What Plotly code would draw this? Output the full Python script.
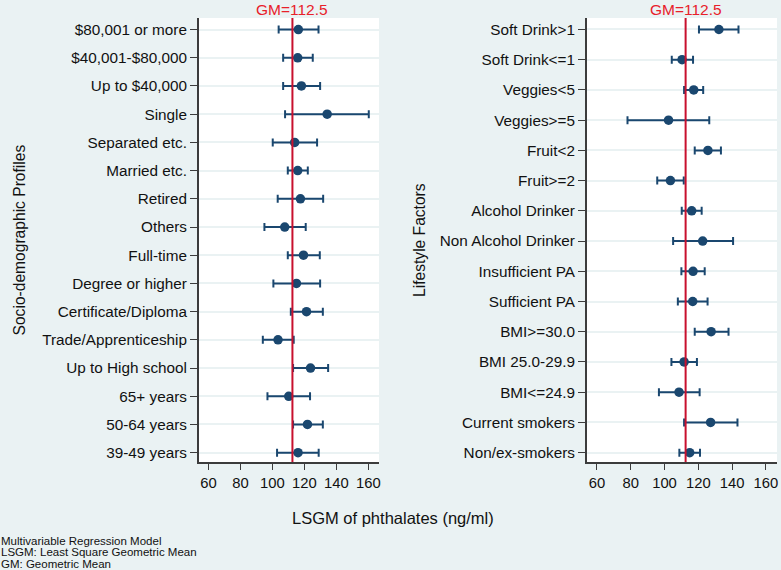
import plotly.graph_objects as go

# ---- data ----
socio_labels = ["$80,001 or more", "$40,001-$80,000", "Up to $40,000", "Single",
                "Separated etc.", "Married etc.", "Retired", "Others", "Full-time",
                "Degree or higher", "Certificate/Diploma", "Trade/Apprenticeship",
                "Up to High school", "65+ years", "50-64 years", "39-49 years"]
socio_est = [116.2, 115.8, 118.1, 134.2, 113.9, 115.8, 117.5, 107.7, 119.4,
             115.0, 121.3, 103.5, 123.8, 110.2, 121.9, 116.0]
socio_lo = [103.9, 106.7, 106.7, 107.9, 100.2, 109.6, 103.3, 95.0, 109.6,
            100.6, 111.5, 94.0, 112.9, 96.9, 112.9, 102.9]
socio_hi = [128.8, 125.2, 129.8, 160.2, 127.9, 122.1, 131.7, 120.8, 129.6,
            129.8, 131.5, 113.3, 134.8, 123.5, 131.5, 128.9]

life_labels = ["Soft Drink>1", "Soft Drink<=1", "Veggies<5", "Veggies>=5", "Fruit<2",
               "Fruit>=2", "Alcohol Drinker", "Non Alcohol Drinker", "Insufficient PA",
               "Sufficient PA", "BMI>=30.0", "BMI 25.0-29.9", "BMI<=24.9",
               "Current smokers", "Non/ex-smokers"]
life_est = [132.2, 110.4, 117.3, 102.4, 125.7, 103.5, 116.1, 122.6, 116.9,
            116.7, 127.6, 111.6, 108.6, 127.3, 114.9]
life_lo = [120.4, 104.3, 111.6, 78.1, 117.9, 95.7, 110.2, 105.1, 110.0,
           107.9, 117.9, 104.1, 96.7, 111.6, 108.8]
life_hi = [143.8, 116.9, 122.9, 126.5, 133.4, 111.4, 122.0, 140.6, 123.8,
           125.5, 137.9, 119.2, 120.8, 143.2, 121.0]

gm_value = 112.5
x_ticks = [60, 80, 100, 120, 140, 160]
note_lines = ["Multivariable Regression Model",
              "LSGM: Least Square Geometric Mean",
              "GM: Geometric Mean"]

# ---- style ----
BG = "#EAF2F3"
NAVY = "#1A476F"
RED = "#C8102E"
AXC = "#3C3C3C"
FONT = "Liberation Sans, Arial, sans-serif"

W, H = 781, 570
TOP, BOT = 18, 462
PH = BOT - TOP


def py(px):
    """pixel row -> paper y"""
    return (BOT - px) / PH


fig = go.Figure()


def add_panel(labels, est, lo, hi, xa, ya):
    n = len(labels)
    ypos = list(range(n))
    fig.add_trace(go.Scatter(
        x=est, y=ypos, mode="markers",
        marker=dict(color=NAVY, size=9.5),
        error_x=dict(type="data", symmetric=False,
                     array=[h - e for h, e in zip(hi, est)],
                     arrayminus=[e - l for e, l in zip(est, lo)],
                     color=NAVY, thickness=2, width=4),
        xaxis=xa, yaxis=ya, showlegend=False, hoverinfo="x+y"))
    return ypos


yl = add_panel(socio_labels, socio_est, socio_lo, socio_hi, "x", "y")
yr = add_panel(life_labels, life_est, life_lo, life_hi, "x2", "y2")

xr = [54.0, 166.6]
common_x = dict(range=xr, tickvals=x_ticks, ticks="outside", ticklen=6,
                tickcolor=AXC, tickwidth=1.2, showline=True, linecolor=AXC,
                linewidth=1.5, showgrid=False, zeroline=False,
                tickfont=dict(size=14.8, color="#111", family=FONT))
common_y = dict(ticks="outside", ticklen=7, tickcolor=AXC, tickwidth=1.2,
                showline=True, linecolor=AXC, linewidth=1.5, showgrid=True,
                gridcolor=BG, gridwidth=1.5, zeroline=False,
                tickfont=dict(size=15.3, color="#111", family=FONT))

fig.update_layout(
    width=W, height=H,
    paper_bgcolor=BG, plot_bgcolor="white",
    margin=dict(l=0, r=0, t=TOP, b=H - BOT),
    font=dict(family=FONT, color="#111"),
    xaxis=dict(domain=[199.3 / W, 380 / W], anchor="y", **common_x),
    yaxis=dict(domain=[0, 1], anchor="x", tickvals=yl, ticktext=socio_labels,
               range=[15.33, -0.41], **common_y),
    xaxis2=dict(domain=[588.3 / W, 779 / W], anchor="y2", **common_x),
    yaxis2=dict(domain=[0, 1], anchor="x2", tickvals=yr, ticktext=life_labels,
                range=[14.31, -0.38], **common_y),
)

# GM reference lines
for xa in ["x", "x2"]:
    fig.add_shape(type="line", xref=xa, yref="paper", x0=gm_value, x1=gm_value,
                  y0=0, y1=1, line=dict(color=RED, width=2), layer="above")
    fig.add_annotation(x=gm_value, xref=xa, y=py(10), yref="paper",
                       xanchor="center", yanchor="middle",
                       text="GM=" + str(gm_value), showarrow=False,
                       font=dict(size=15.5, color="#E8202A", family=FONT))

# axis titles
fig.add_annotation(x=19.5 / W, y=0.5, xref="paper", yref="paper", textangle=-90,
                   xanchor="center", yanchor="middle",
                   text="Socio-demographic Profiles", showarrow=False,
                   font=dict(size=15.6, family=FONT, color="#111"))
fig.add_annotation(x=420 / W, y=0.5, xref="paper", yref="paper", textangle=-90,
                   xanchor="center", yanchor="middle",
                   text="Lifestyle Factors", showarrow=False,
                   font=dict(size=15.6, family=FONT, color="#111"))
fig.add_annotation(x=394 / W, y=py(518), xref="paper", yref="paper",
                   xanchor="center", yanchor="middle",
                   text="LSGM of phthalates (ng/ml)",
                   showarrow=False, font=dict(size=16.5, family=FONT, color="#111"))

# notes
for i, line in enumerate(note_lines):
    fig.add_annotation(x=0, y=py(540.7 + 11.7 * i), xref="paper", yref="paper",
                       xanchor="left", yanchor="middle", align="left",
                       text=line, showarrow=False, borderpad=0,
                       font=dict(size=11.5, family=FONT, color="#111"))

fig.write_html(
    "out.html",
    config={"displayModeBar": False},
    post_script="document.body.style.margin='0';"
                "document.body.style.background='" + BG + "';",
)
